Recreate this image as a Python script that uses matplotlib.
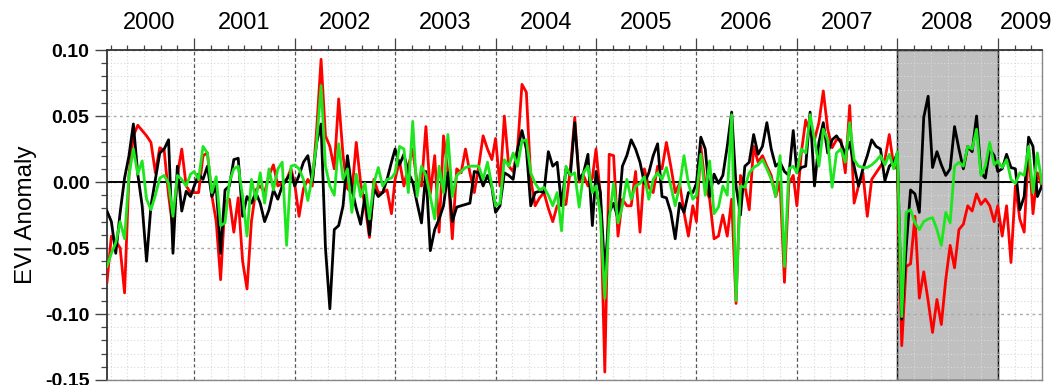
import matplotlib
matplotlib.use("Agg")
import matplotlib.pyplot as plt
import matplotlib.transforms as mtransforms
from matplotlib.ticker import MultipleLocator, FixedLocator
import numpy as np

plt.rcParams["font.family"] = ["Liberation Sans", "DejaVu Sans"]

# ===============================
# DATOS (compuestos MODIS de 16 dias, feb 2000 - jun 2009)
# ===============================
years = list(range(2000, 2010))
year_labels = [str(y) for y in years]
composite_doy = list(range(1, 366, 16))   # 23 compuestos por anio
first_doy_2000 = 49
last_doy_2009 = 161
event_start, event_end = 2008, 2009

black = (
    # 2000
    [-0.022, -0.030, -0.054, -0.023, 0.003, 0.020, 0.044, 0.006, -0.018, -0.060,
     -0.018, 0.002, 0.022, 0.025, 0.032, -0.054, 0.012, -0.022, -0.007, -0.011]
    # 2001
    + [-0.003, 0.006, 0.002, 0.012, -0.011, -0.003, -0.054, -0.006, -0.003, 0.017, 0.018, -0.026,
       -0.011, -0.016, -0.008, -0.016, -0.030, -0.021, -0.006, -0.013, -0.003, 0.002, 0.007]
    # 2002
    + [-0.003, 0.005, 0.015, 0.020, 0.000, 0.030, 0.044, -0.050, -0.096, -0.036, -0.033, -0.018,
       0.020, -0.005, -0.020, -0.032, -0.010, -0.040, -0.005, -0.011, -0.008, 0.002, 0.015]
    # 2003
    + [0.025, 0.013, 0.021, 0.007, 0.000, -0.016, -0.031, 0.008, -0.052, -0.036, -0.028, -0.018,
       0.007, -0.030, -0.019, -0.018, -0.017, -0.016, 0.008, 0.007, -0.003, 0.005, -0.004]
    # 2004
    + [-0.023, -0.018, 0.007, 0.005, 0.002, 0.025, 0.039, 0.025, -0.018, -0.008, -0.007, -0.008,
       0.023, 0.012, 0.015, -0.018, 0.010, 0.005, 0.045, 0.002, 0.007, 0.021, -0.033]
    # 2005
    + [0.008, -0.008, -0.069, -0.023, -0.016, -0.028, 0.012, 0.020, 0.032, 0.025, 0.015, -0.001,
       0.007, 0.020, 0.029, -0.011, -0.012, -0.023, -0.043, -0.016, -0.023, -0.008, -0.008]
    # 2006
    + [-0.001, 0.034, 0.025, -0.011, 0.006, -0.001, 0.005, 0.027, 0.053, -0.003, -0.025, 0.012,
       0.015, 0.036, 0.021, 0.027, 0.045, 0.025, 0.012, 0.015, 0.008, 0.005, 0.039]
    # 2007
    + [0.007, 0.011, 0.012, 0.053, -0.003, 0.030, 0.045, 0.022, 0.032, 0.035, 0.030, 0.021,
       0.030, 0.012, -0.003, 0.010, 0.020, 0.032, 0.027, 0.025, 0.001, 0.012, 0.015]
    # 2008
    + [0.022, -0.104, -0.050, -0.006, -0.009, -0.023, 0.049, 0.065, 0.011, 0.023, 0.013, 0.005,
       0.010, 0.042, 0.025, 0.010, 0.027, 0.023, 0.050, 0.007, 0.003, 0.025, 0.020]
    # 2009
    + [0.008, 0.010, 0.021, 0.011, 0.010, -0.021, -0.011, 0.034, 0.027, -0.011, -0.003]
)

red = (
    # 2000
    [-0.076, -0.041, -0.045, -0.050, -0.084, 0.005, 0.035, 0.043, 0.039, 0.035,
     0.030, 0.007, 0.026, 0.024, -0.010, -0.036, 0.005, 0.025, -0.003, -0.008]
    # 2001
    + [-0.008, -0.008, 0.020, 0.022, -0.010, -0.030, -0.074, -0.015, -0.013, -0.038, -0.012, -0.060,
       -0.081, -0.030, -0.006, -0.003, -0.008, 0.005, 0.013, -0.003, -0.001, 0.002, 0.010]
    # 2002
    + [-0.001, -0.026, -0.005, 0.002, -0.003, 0.040, 0.093, 0.035, 0.027, 0.010, 0.063, 0.020,
       -0.005, -0.008, 0.030, -0.001, -0.018, -0.042, 0.002, -0.008, -0.008, -0.006, -0.024]
    # 2003
    + [0.002, 0.016, -0.003, 0.012, 0.025, -0.001, -0.003, 0.042, -0.009, 0.020, -0.038, 0.035,
       0.007, -0.043, 0.010, 0.007, 0.025, 0.007, -0.008, 0.012, 0.035, 0.025, 0.017]
    # 2004
    + [0.033, -0.003, 0.050, 0.012, 0.008, 0.025, 0.074, 0.068, 0.002, -0.018, -0.012, -0.008,
       -0.020, -0.030, -0.018, -0.017, -0.017, 0.010, 0.049, 0.000, 0.005, -0.003, 0.003]
    # 2005
    + [0.025, -0.010, -0.144, 0.021, 0.020, -0.041, -0.013, -0.018, -0.018, 0.008, -0.038, 0.010,
       -0.004, -0.008, 0.012, 0.010, 0.030, 0.012, -0.008, -0.001, -0.023, -0.041, -0.018]
    # 2006
    + [-0.030, 0.027, -0.003, -0.013, -0.043, -0.041, -0.025, -0.041, -0.013, -0.092, 0.005, -0.003,
       -0.021, 0.027, 0.015, 0.020, 0.012, 0.005, -0.011, 0.000, -0.076, -0.001, 0.005]
    # 2007
    + [-0.018, 0.022, 0.047, 0.037, 0.032, 0.045, 0.069, 0.040, 0.026, 0.032, 0.032, 0.007,
       0.058, -0.016, -0.003, 0.007, -0.026, 0.002, 0.007, 0.012, 0.017, 0.036, 0.012]
    # 2008
    + [0.010, -0.124, -0.064, -0.062, -0.026, -0.088, -0.068, -0.090, -0.114, -0.089, -0.108, -0.074,
       -0.048, -0.065, -0.036, -0.032, -0.018, -0.022, -0.009, -0.017, -0.013, -0.018, -0.030]
    # 2009
    + [-0.018, -0.041, -0.018, -0.061, -0.003, -0.028, -0.038, 0.027, -0.024, 0.007, -0.003]
)

green = (
    # 2000
    [-0.064, -0.054, -0.046, -0.030, -0.043, 0.005, 0.025, 0.006, 0.016, -0.013,
     -0.021, -0.010, 0.003, 0.005, -0.001, -0.026, 0.005, 0.002, -0.003, 0.006]
    # 2001
    + [0.008, 0.002, 0.027, 0.022, -0.008, 0.004, -0.033, -0.031, 0.000, 0.010, 0.012, -0.011,
       -0.041, 0.002, -0.013, 0.007, -0.016, 0.010, -0.006, 0.010, 0.015, -0.048, 0.012]
    # 2002
    + [0.013, 0.010, 0.002, -0.014, 0.004, 0.030, 0.073, 0.012, -0.003, -0.010, 0.029, 0.002,
       0.010, -0.023, 0.006, -0.011, -0.001, -0.028, -0.001, 0.011, -0.003, 0.002, 0.003]
    # 2003
    + [0.007, 0.027, 0.025, -0.008, 0.046, -0.011, 0.012, 0.005, -0.011, -0.028, 0.012, -0.008,
       0.036, -0.011, 0.005, 0.008, 0.011, 0.012, 0.012, 0.012, 0.002, 0.015, -0.003]
    # 2004
    + [-0.018, -0.016, 0.017, 0.012, 0.022, 0.012, 0.031, 0.032, 0.007, -0.001, -0.006, -0.004,
       -0.010, -0.018, -0.008, -0.037, 0.012, 0.005, 0.007, -0.019, 0.007, 0.012, -0.008]
    # 2005
    + [-0.003, -0.025, -0.088, -0.028, -0.001, -0.031, -0.018, 0.002, -0.013, -0.003, -0.001, 0.004,
       -0.013, 0.002, 0.007, 0.002, 0.011, -0.003, -0.018, -0.003, 0.020, -0.001, -0.013]
    # 2006
    + [-0.010, 0.021, -0.010, 0.016, -0.024, -0.019, -0.003, -0.010, 0.051, -0.090, -0.003, -0.004,
       0.007, 0.011, 0.013, 0.017, 0.010, 0.002, -0.011, 0.020, -0.064, 0.010, 0.012]
    # 2007
    + [0.007, 0.025, 0.022, 0.051, 0.032, 0.012, 0.040, 0.032, -0.004, 0.022, 0.025, 0.015,
       0.045, 0.017, 0.012, 0.011, 0.011, 0.013, 0.016, 0.020, 0.013, 0.021, 0.010]
    # 2008
    + [0.023, -0.102, -0.023, -0.021, -0.031, -0.036, -0.030, -0.028, -0.027, -0.036, -0.048, -0.023,
       -0.031, 0.012, 0.015, 0.012, 0.027, 0.025, 0.040, 0.005, 0.012, 0.030, 0.013]
    # 2009
    + [0.016, 0.011, 0.017, 0.002, -0.001, 0.007, 0.005, 0.027, -0.008, 0.022, -0.001]
)

# fechas decimales de cada compuesto
t = []
for y in years:
    for d in composite_doy:
        if y == 2000 and d < first_doy_2000:
            continue
        if y == 2009 and d > last_doy_2009:
            continue
        t.append(y + (d - 1) / 365.25)
t = np.array(t)

# ===============================
# FIGURA
# ===============================
fig = plt.figure(figsize=(10.57, 3.85), dpi=100)
ax = fig.add_axes([0.1012, 0.013, 0.8846, 0.857])

ax.set_xlim(t[0], t[-1] + 0.002)
ax.set_ylim(-0.15, 0.10)

# periodo 2008 sombreado
ax.axvspan(event_start, event_end, facecolor="#c0c0c0", edgecolor="black",
           linewidth=1.0, zorder=0.3)

# grilla
ax.set_axisbelow(True)
ax.xaxis.set_major_locator(FixedLocator(years[1:]))
ax.xaxis.set_minor_locator(MultipleLocator(1 / 6))
ax.yaxis.set_major_locator(MultipleLocator(0.05))
ax.yaxis.set_minor_locator(MultipleLocator(0.01))
ax.grid(which="minor", axis="both", color="#d9d9d9", linewidth=0.8,
        linestyle=(0, (1, 2)))
ax.grid(which="major", axis="y", color="#a8a8a8", linewidth=1.0,
        linestyle=(0, (2, 2.5)))
ax.grid(which="major", axis="x", color="#555555", linewidth=0.9,
        linestyle=(0, (3, 2)))

ax.axhline(0, color="black", linewidth=1.4, zorder=2)

ax.plot(t, red, color="#ff0000", linewidth=2.0, zorder=3)
ax.plot(t, black, color="black", linewidth=2.0, zorder=4)
ax.plot(t, green, color="#1ee61e", linewidth=2.0, zorder=5)

# ejes y marcas
ax.xaxis.tick_top()
ax.tick_params(axis="x", which="both", labeltop=False, labelbottom=False,
               top=True, bottom=False, direction="out", color="#444444")
ax.tick_params(axis="x", which="major", length=9, width=0.9)
ax.tick_params(axis="x", which="minor", length=3.5, width=0.9)
ax.tick_params(axis="y", which="both", left=True, right=False,
               direction="out", color="#444444")
ax.tick_params(axis="y", which="major", length=8.5, width=1.0, pad=4,
               labelsize=14)
ax.tick_params(axis="y", which="minor", length=4.5, width=0.9)
ax.set_yticks([0.10, 0.05, 0.00, -0.05, -0.10, -0.15])
ax.set_yticklabels(["0.10", "0.05", "0.00", "-0.05", "-0.10", "-0.15"],
                   fontweight="bold")

for side in ["top", "left"]:
    ax.spines[side].set_color("#333333")
    ax.spines[side].set_linewidth(1.3)
for side in ["right", "bottom"]:
    ax.spines[side].set_color("#888888")
    ax.spines[side].set_linewidth(1.0)

ax.set_ylabel("EVI Anomaly", fontsize=17.5, labelpad=6)

# etiquetas de los anios arriba
trans = mtransforms.blended_transform_factory(ax.transData, ax.transAxes)
label_x = [y + 0.5 for y in years]
label_x[0] = 2000.55
label_x[-1] = 2009.28
for x, lab in zip(label_x, year_labels):
    ax.text(x, 1.083, lab, transform=trans, ha="center", va="center",
            fontsize=17, clip_on=False)

fig.savefig("out.png", dpi=100)
